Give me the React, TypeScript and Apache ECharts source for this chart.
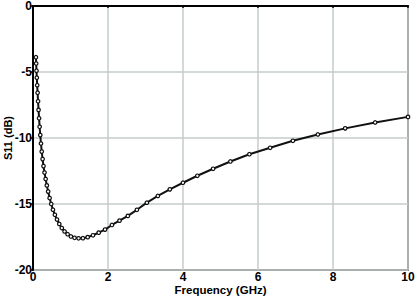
import React, { useEffect, useRef } from "react";
import * as echarts from "echarts";

const freqGHz = [
  0.078, 0.085, 0.093, 0.102, 0.112, 0.123, 0.135, 0.148, 0.162, 0.177,
  0.194, 0.213, 0.233, 0.256, 0.28, 0.307, 0.337, 0.369, 0.404, 0.443,
  0.486, 0.532, 0.584, 0.64, 0.701, 0.768, 0.842, 0.923, 1.011, 1.108,
  1.215, 1.331, 1.459, 1.599, 1.753, 1.921, 2.105, 2.307, 2.529, 2.771,
  3.037, 3.329, 3.649, 3.999, 4.383, 4.803, 5.264, 5.77, 6.324, 6.931,
  7.596, 8.325, 9.124, 10,
];

const s11dB = [
  -3.88, -4.36, -4.9, -5.43, -6.0, -6.57, -7.22, -7.87, -8.51, -9.15,
  -9.78, -10.42, -11.03, -11.6, -12.13, -12.62, -13.11, -13.59, -14.06, -14.55,
  -15.0, -15.43, -15.82, -16.18, -16.51, -16.82, -17.08, -17.29, -17.46, -17.56,
  -17.6, -17.59, -17.51, -17.37, -17.17, -16.94, -16.59, -16.26, -15.9, -15.44,
  -14.9, -14.39, -13.89, -13.39, -12.86, -12.33, -11.78, -11.23, -10.74, -10.21,
  -9.73, -9.27, -8.82, -8.4,
];

const xTitle = "Frequency (GHz)";
const yTitle = "S11 (dB)";

export default function App() {
  const ref = useRef<HTMLDivElement>(null);
  useEffect(() => {
    if (!ref.current) return;
    const chart = echarts.init(ref.current, null, { renderer: "svg" });
    const font = "'Liberation Sans', Arial, sans-serif";
    chart.setOption({
      animation: false,
      backgroundColor: "#fff",
      grid: {
        left: 33,
        right: 8,
        top: 6,
        bottom: 27,
        show: true,
        borderColor: "#222",
        borderWidth: 1.5,
        backgroundColor: "transparent",
        containLabel: false,
        outerBoundsMode: "none",
      },
      xAxis: {
        type: "value",
        min: 0,
        max: 10,
        interval: 2,
        name: xTitle,
        nameLocation: "middle",
        nameGap: 14,
        nameMoveOverlap: false,
        nameTextStyle: { fontFamily: font, fontWeight: "bold", fontSize: 11.5, color: "#000" },
        axisLine: { show: true, lineStyle: { color: "#000", width: 2 } },
        axisTick: { show: true, length: 2, lineStyle: { color: "#000", width: 1.5 } },
        axisLabel: { margin: 1, fontFamily: font, fontWeight: "bold", fontSize: 12, color: "#000" },
        splitLine: { show: true, lineStyle: { color: "#c5cdc9", width: 1.5 } },
      },
      yAxis: {
        type: "value",
        min: -20,
        max: 0,
        interval: 5,
        name: yTitle,
        nameLocation: "middle",
        nameGap: 20,
        nameMoveOverlap: false,
        nameRotate: 90,
        nameTextStyle: { fontFamily: font, fontWeight: "bold", fontSize: 11, color: "#000" },
        axisLine: { show: true, lineStyle: { color: "#000", width: 2 } },
        axisTick: { show: true, length: 2, lineStyle: { color: "#000", width: 1.5 } },
        axisLabel: { margin: 1, fontFamily: font, fontWeight: "bold", fontSize: 12, color: "#000" },
        splitLine: { show: true, lineStyle: { color: "#c5cdc9", width: 1.5 } },
      },
      series: [
        {
          type: "line",
          data: freqGHz.map((f, i) => [f, s11dB[i]]),
          symbol: "circle",
          symbolSize: 3.5,
          showAllSymbol: true,
          lineStyle: { color: "#111", width: 2 },
          itemStyle: { color: "#fff", borderColor: "#111", borderWidth: 1.2 },
          z: 5,
        },
      ],
    });
    return () => chart.dispose();
  }, []);
  return (
    <div
      ref={ref}
      style={{ position: "fixed", left: 0, top: 0, width: 416, height: 297 }}
    />
  );
}
